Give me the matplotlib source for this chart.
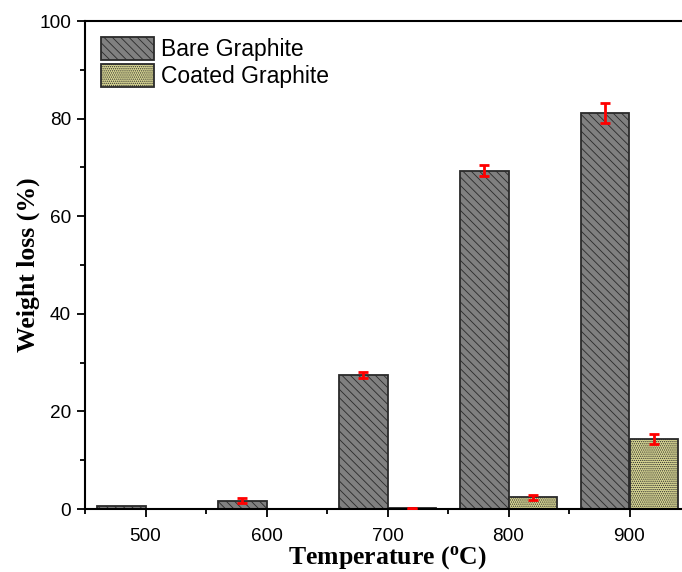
import numpy as np
import matplotlib
matplotlib.use('Agg')
import matplotlib.pyplot as plt

# data
temps = [500, 600, 700, 800, 900]
bare = [0.6, 1.7, 27.5, 69.3, 81.2]
bare_err = [0.0, 0.5, 0.6, 1.15, 2.0]
coated = [0.0, 0.0, 0.2, 2.4, 14.4]
coated_err = [0.0, 0.0, 0.1, 0.55, 1.0]

plt.rcParams['hatch.linewidth'] = 0.6

fig = plt.figure(figsize=(6.82, 5.72), dpi=100)
# right edge runs past the figure, as in the reference
ax = fig.add_axes([85/682, 1 - 509/572, 605/682, 488/572])

x = np.array(temps)
w = 40
ax.bar(x - w/2, bare, width=w, color='#808080', edgecolor='#2a2a2a',
       linewidth=1.3, hatch='\\\\\\\\', label='Bare Graphite')
ax.bar(x + w/2, coated, width=w, color='#d8d693', edgecolor='#2a2a2a',
       linewidth=1.3, hatch='........', label='Coated Graphite')

# red error bars, skip the zero ones
for xs, ys, es in [(x - w/2, bare, bare_err), (x + w/2, coated, coated_err)]:
    xs = np.asarray(xs); ys = np.asarray(ys); es = np.asarray(es)
    m = es > 0
    ax.errorbar(xs[m], ys[m], yerr=es[m], fmt='none', ecolor='red',
                elinewidth=2, capsize=3.8, capthick=2, zorder=5)

ax.set_xlim(450, 950)
ax.set_ylim(0, 100)
ax.set_xticks(temps)
ax.set_xticks([450, 550, 650, 750, 850, 950], minor=True)
ax.set_yticks([0, 20, 40, 60, 80, 100])
ax.set_yticks([10, 30, 50, 70, 90], minor=True)
ax.tick_params(which='major', direction='out', length=6, width=1.3)
ax.tick_params(which='minor', direction='out', length=3.5, width=1.3)
ax.tick_params(axis='y', labelsize=13.7, pad=4)
ax.tick_params(axis='x', labelsize=13.7, pad=8)
for lab in ax.get_xticklabels() + ax.get_yticklabels():
    lab.set_fontfamily('Liberation Sans')
for s in ax.spines.values():
    s.set_linewidth(1.5)

ax.set_xlabel('Temperature ($\\mathregular{^{o}}$C)', fontfamily='Liberation Serif',
              fontweight='bold', fontsize=18.5, labelpad=-1)
ax.set_ylabel('Weight loss (%)', fontfamily='Liberation Serif',
              fontweight='bold', fontsize=18.5, labelpad=-0.5)

ax.legend(loc='upper left', frameon=False, prop={'family': 'Liberation Sans', 'size': 16.5},
          handlelength=2.3, handleheight=1.15, handletextpad=0.3, labelspacing=0.12,
          borderpad=0.3, borderaxespad=0.4, bbox_to_anchor=(0.0, 1.0))

fig.savefig('out.png', dpi=100)
